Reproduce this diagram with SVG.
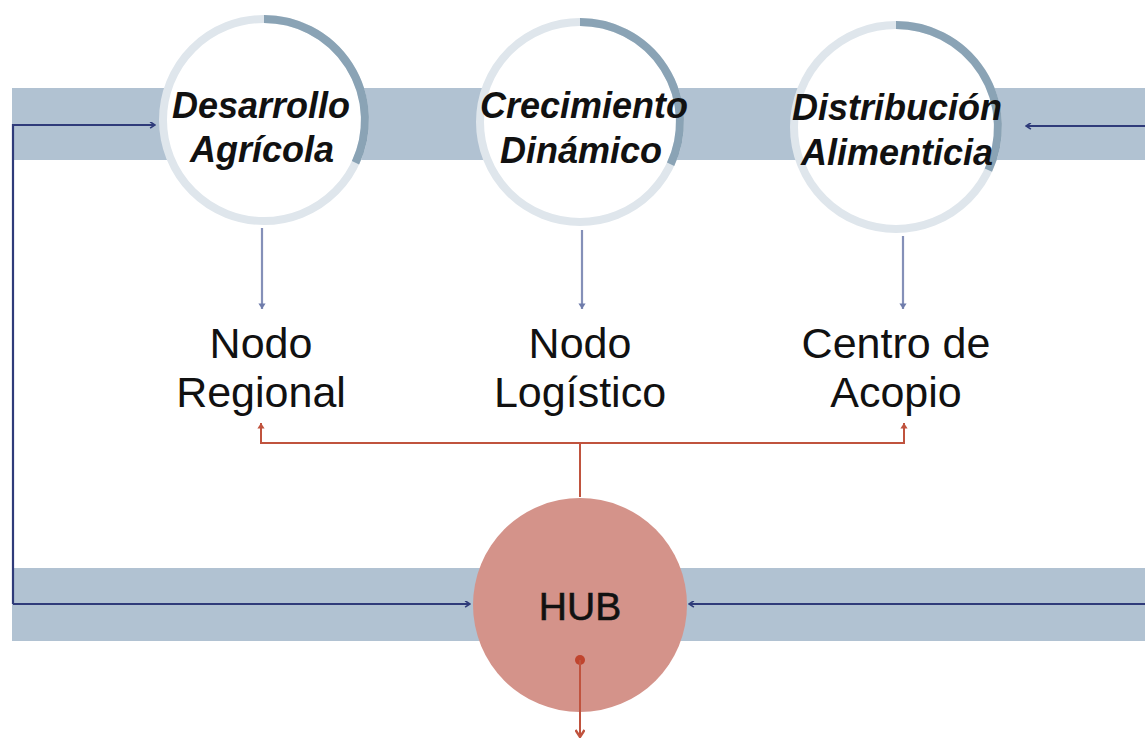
<svg xmlns="http://www.w3.org/2000/svg" width="1145" height="739" viewBox="0 0 1145 739">
<defs>
<style>
.band{fill:#b1c2d2}
.ring{fill:#ffffff;stroke:#dfe6ec;stroke-width:8}
.arc{fill:none;stroke:#8aa3b5;stroke-width:8}
.ctext{font-family:"Liberation Sans",Arial,sans-serif;font-weight:bold;font-style:italic;font-size:36px;fill:#111;text-anchor:middle}
.ltext{font-family:"Liberation Sans",Arial,sans-serif;font-size:43px;fill:#111;text-anchor:middle}
.hubtext{font-family:"Liberation Sans",Arial,sans-serif;font-size:39px;fill:#111;text-anchor:middle;stroke:#111;stroke-width:0.6}
.navy{fill:none;stroke:#2f3b7a;stroke-width:2.2}
.drop{fill:none;stroke:#8590b8;stroke-width:2.2}
.red{fill:none;stroke:#c0533e;stroke-width:2}
</style>
<marker id="chev" viewBox="0 0 10 10" refX="9" refY="5" markerWidth="7" markerHeight="7" markerUnits="userSpaceOnUse" orient="auto">
<polyline points="2,0.5 9,5 2,9.5" fill="none" stroke="#2f3b7a" stroke-width="2.4"/>
</marker>
<marker id="dropHead" viewBox="0 0 10 10" refX="9" refY="5" markerWidth="8" markerHeight="8" markerUnits="userSpaceOnUse" orient="auto">
<path d="M2,0.5 L9,5 L2,9.5 Z" fill="#6f7cab"/>
</marker>
<marker id="redHead" viewBox="0 0 10 10" refX="9" refY="5" markerWidth="8" markerHeight="8" markerUnits="userSpaceOnUse" orient="auto">
<path d="M2,0.5 L9,5 L2,9.5 Z" fill="#c0533e"/>
</marker>
<marker id="redChev" viewBox="0 0 10 10" refX="9" refY="5" markerWidth="10" markerHeight="10" markerUnits="userSpaceOnUse" orient="auto">
<polyline points="2,0.5 9,5 2,9.5" fill="none" stroke="#c0533e" stroke-width="2.4"/>
</marker>
</defs>
<rect width="1145" height="739" fill="#ffffff"/>
<g id="bands">
<rect class="band" x="12" y="88" width="1133" height="72"/>
<rect class="band" x="12" y="568" width="1133" height="73"/>
</g>
<g id="node-desarrollo">
<circle class="ring" cx="264" cy="120" r="101"/>
<path class="arc" d="M264,19 A101,101 0 0 1 355.5,162.7"/>
<text class="ctext" x="261" y="118">Desarrollo</text>
<text class="ctext" x="262" y="162">Agrícola</text>
</g>
<g id="node-crecimiento">
<circle class="ring" cx="580" cy="122" r="100"/>
<path class="arc" d="M580,22 A100,100 0 0 1 670.6,164.3"/>
<text class="ctext" x="584" y="118">Crecimiento</text>
<text class="ctext" x="581" y="163">Dinámico</text>
</g>
<g id="node-distribucion">
<circle class="ring" cx="896" cy="127" r="102"/>
<path class="arc" d="M896,25 A102,102 0 0 1 988.4,170.1"/>
<text class="ctext" x="897" y="120">Distribución</text>
<text class="ctext" x="897" y="165">Alimenticia</text>
</g>
<g id="node-nodo-regional">
<text class="ltext" x="261" y="358">Nodo</text>
<text class="ltext" x="261" y="407">Regional</text>
</g>
<g id="node-nodo-logistico">
<text class="ltext" x="580" y="358">Nodo</text>
<text class="ltext" x="580" y="407">Logístico</text>
</g>
<g id="node-centro-acopio">
<text class="ltext" x="896" y="358">Centro de</text>
<text class="ltext" x="896" y="407">Acopio</text>
</g>
<g id="node-hub">
<circle cx="580" cy="605" r="107" fill="#d4938a"/>
<text class="hubtext" x="580" y="620">HUB</text>
</g>
<g id="connectors">
<polyline class="navy" points="13,604 13,125 155,125" marker-end="url(#chev)"/>
<line class="navy" x1="13" y1="604" x2="470" y2="604" marker-end="url(#chev)"/>
<line class="navy" x1="1145" y1="126" x2="1026" y2="126" marker-end="url(#chev)"/>
<line class="navy" x1="1145" y1="604" x2="689" y2="604" marker-end="url(#chev)"/>
<line class="drop" x1="262" y1="228" x2="262" y2="309" marker-end="url(#dropHead)"/>
<line class="drop" x1="582" y1="230" x2="582" y2="309" marker-end="url(#dropHead)"/>
<line class="drop" x1="903" y1="236" x2="903" y2="309" marker-end="url(#dropHead)"/>
<line class="red" x1="580" y1="497" x2="580" y2="443"/>
<polyline class="red" points="580,443 261,443 261,423" marker-end="url(#redHead)"/>
<polyline class="red" points="580,443 904,443 904,423" marker-end="url(#redHead)"/>
<circle cx="580" cy="660" r="5" fill="#c0442e"/>
<line class="red" x1="580" y1="660" x2="580" y2="737" marker-end="url(#redChev)"/>
</g>
</svg>
